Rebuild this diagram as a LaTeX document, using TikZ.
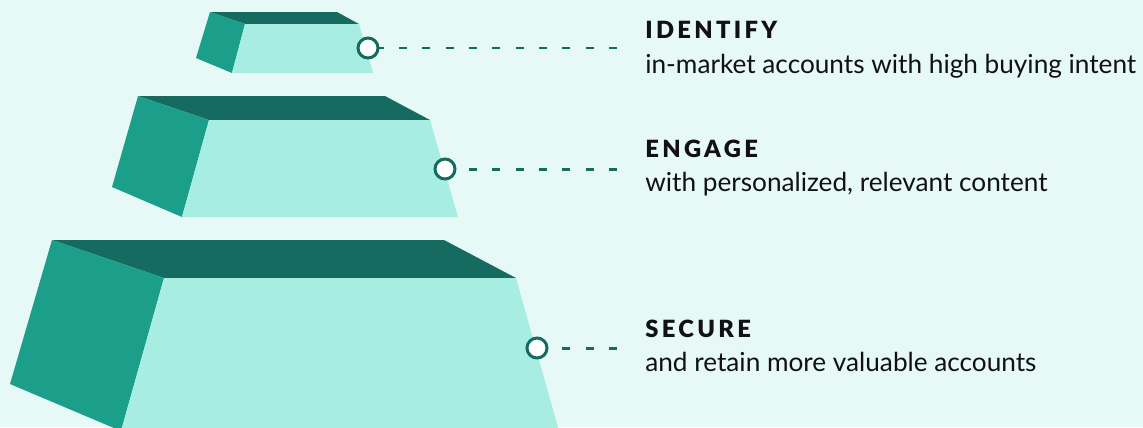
\documentclass[tikz,border=0pt]{standalone}
\usepackage{fontspec}
\setmainfont{Lato}
\newfontfamily\headfont[LetterSpace=14]{Lato Black}
\usetikzlibrary{positioning}
\definecolor{bgmint}{RGB}{230,249,246}
\definecolor{topside}{RGB}{21,107,95}
\definecolor{leftside}{RGB}{27,158,138}
\definecolor{frontside}{RGB}{167,237,226}
\definecolor{ink}{RGB}{17,17,17}
\tikzset{lid/.style={fill=topside},
flank/.style={fill=leftside},
face/.style={fill=frontside},
knob/.style={circle,draw=topside,fill=white,line width=1.7pt,minimum size=4mm,inner sep=0pt},
leader/.style={draw=topside,line width=1.7pt,dash pattern=on 1.6mm off 3.07mm},
stage/.style={anchor=base west,inner sep=0pt,text=ink,font=\headfont\fontsize{13.5}{16}\selectfont},
blurb/.style={anchor=base west,inner sep=0pt,text=ink,font=\fontsize{14.9}{18}\selectfont}}

\begin{document}
\begin{tikzpicture}[x=0.02cm,y=-0.02cm]
\useasboundingbox (0,0) rectangle (1143,427);
\fill[bgmint] (0,0) rectangle (1143,427);
\clip (0,0) rectangle (1143,427);
% top block
\fill[lid] (210,12) -- (337,12) -- (359,24) -- (245,24) -- cycle;
\fill[flank] (210,12) -- (245,24) -- (232,73) -- (196,58) -- cycle;
\fill[face] (245,24) -- (359,24) -- (373,73) -- (232,73) -- cycle;
% middle block
\fill[lid] (138,96) -- (385,96) -- (430,120) -- (209,120) -- cycle;
\fill[flank] (138,96) -- (209,120) -- (182,217) -- (112,187) -- cycle;
\fill[face] (209,120) -- (430,120) -- (458,217) -- (182,217) -- cycle;
% bottom block, runs off the lower edge
\fill[lid] (52,240) -- (444,240) -- (516,278) -- (164,278) -- cycle;
\fill[flank] (52,240) -- (164,278) -- (121,431) -- (10,384) -- cycle;
\fill[face] (164,278) -- (516,278) -- (559,431) -- (121,431) -- cycle;

% markers and leaders (drawn from the far end so a dash sits at 617)
\node[knob] (dotA) at (368,48) {};
\node[knob] (dotB) at (445,169) {};
\node[knob] (dotC) at (537,348) {};
\coordinate (endA) at (617,48);
\coordinate (endB) at (617,169);
\coordinate (endC) at (617,348);
\draw[leader] (endA) -- (dotA);
\draw[leader] (endB) -- (dotB);
\draw[leader] (endC) -- (dotC);

% labels
\node[stage] (identify) at (645,38) {IDENTIFY};
\node[blurb] (identifytxt) at (645,73) {in-market accounts with high buying intent};
\node[stage] (engage) at (645,157) {ENGAGE};
\node[blurb] (engagetxt) at (645,191) {with personalized, relevant content};
\node[stage] (secure) at (645,337) {SECURE};
\node[blurb] (securetxt) at (645,371) {and retain more valuable accounts};
\end{tikzpicture}
\end{document}
